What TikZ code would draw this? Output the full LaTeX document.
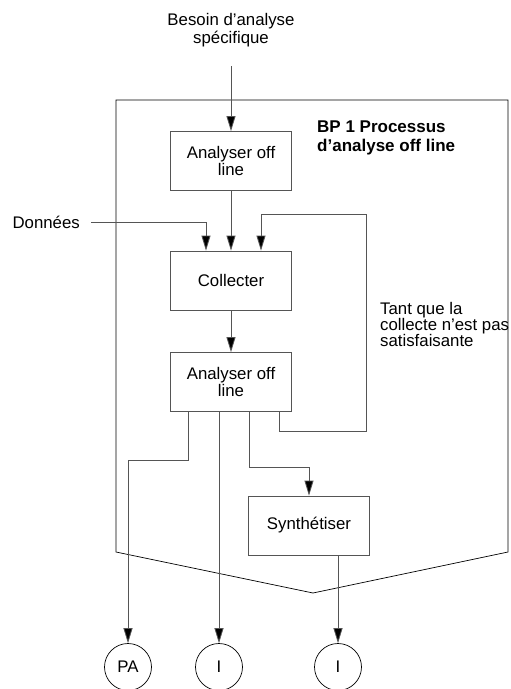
\documentclass[tikz,border=0pt]{standalone}
\usepackage{fontspec}
\setmainfont{Liberation Sans}
\usetikzlibrary{arrows.meta,calc,positioning}
\definecolor{trait}{HTML}{555555}

\begin{document}
\begin{tikzpicture}[x=1pt,y=-1pt,font=\fontsize{16.8}{17.5}\selectfont,
  boite/.style={draw=trait,line width=0.8pt,minimum width=121pt,minimum height=59pt,align=center,inner sep=0pt},
  rond/.style={draw,line width=0.7pt,circle,minimum size=47pt,inner sep=0pt},
  fl/.style={draw=trait,line width=0.8pt,-{Triangle[length=15pt,width=9pt,fill=black]}},
  lien/.style={draw=trait,line width=0.8pt}]
  \useasboundingbox (0,0) rectangle (511,689);
  % cadre du processus
  \draw[line width=0.7pt] (116,100)--(508,100)--(508,552)--(313,593)--(116,552)--cycle;
  \node[anchor=north west,align=left,font=\fontsize{17}{19}\selectfont\bfseries,inner sep=0pt] (titre) at (317,121) {BP 1 Processus\\d’analyse off line};
  % activites
  \node[boite] (ana1) at (231,161) {Analyser off\\line};
  \node[boite] (coll) at (231,280.5) {Collecter};
  \node[boite] (ana2) at (231,382) {Analyser off\\line};
  \node[boite] (synth) at (309,525.5) {Synthétiser};
  \node[rond] (pa) at (128,667) {PA};
  \node[rond] (i1) at (219,667) {I};
  \node[rond] (i2) at (338,667) {I};
  % textes
  \node[align=center,inner sep=0pt] (besoin) at (231,30) {Besoin d’analyse\\spécifique};
  \node[anchor=east,inner sep=0pt] (donnees) at (80,222) {Données};
  \node[anchor=west,align=left,inner sep=0pt,font=\fontsize{16.8}{16}\selectfont] (tantque) at (380,324) {Tant que la\\collecte n’est pas\\satisfaisante};
  \coordinate (depart) at (231,66);
  \coordinate (boucle) at (366,214);
  % flux
  \draw[fl] (depart) -- (ana1);
  \draw[fl] ([xshift=11pt]donnees.east) -| ($(coll.north)+(-25,0)$);
  \draw[fl] (ana1) -- (coll);
  \draw[fl] (coll) -- (ana2);
  \draw[fl] ($(ana2.south)+(48,0)$) -- ++(0,19) -| (boucle) -| ($(coll.north)+(30,0)$);
  \draw[fl] ($(ana2.south)+(-43,0)$) -- ++(0,48) -| (pa);
  \draw[fl] ($(ana2.south)+(-12,0)$) -- (i1);
  \draw[fl] ($(ana2.south)+(18,0)$) -- ++(0,55) -| (synth);
  \draw[fl] ($(synth.south)+(29,0)$) -- (i2);
\end{tikzpicture}
\end{document}
